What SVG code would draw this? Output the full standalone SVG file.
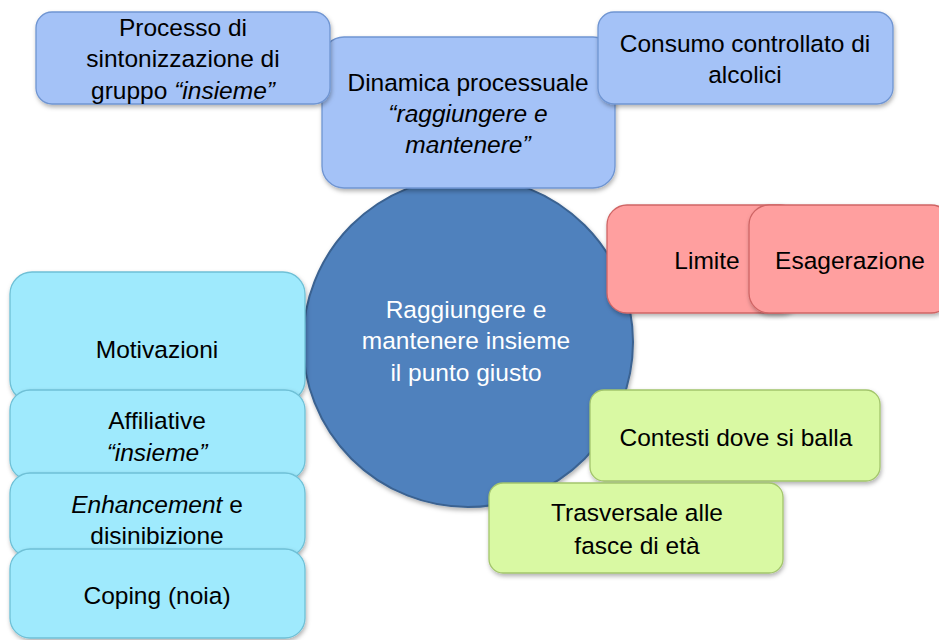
<svg xmlns="http://www.w3.org/2000/svg" width="939" height="640" viewBox="0 0 939 640">
<defs>
<filter id="sh" x="-10%" y="-10%" width="120%" height="130%">
<feDropShadow dx="1" dy="2.5" stdDeviation="2" flood-color="#000" flood-opacity="0.3"/>
</filter>
<style>
.t{font-family:"Liberation Sans",Arial,sans-serif;font-size:24.5px;fill:#000;text-anchor:middle}
.w{fill:#fff}
.i{font-style:italic}
.blue{fill:#A4C2F7;stroke:#6F95D2;stroke-width:1.3}
.cyan{fill:#9FEAFD;stroke:#6FC0D6;stroke-width:1.3}
.red{fill:#FF9F9F;stroke:#CF6565;stroke-width:1.3}
.green{fill:#D9F9A3;stroke:#A3C56C;stroke-width:1.3}
.circ{fill:#4F81BD;stroke:#3A6291;stroke-width:2}
</style>
</defs>
<rect width="939" height="640" fill="#fff"/>
<g id="connectors"/>
<g id="center">
<circle class="circ" cx="468" cy="342" r="165" filter="url(#sh)"/>
<text class="t w"><tspan x="466" y="318">Raggiungere e</tspan><tspan x="466" y="349">mantenere insieme</tspan><tspan x="466" y="381">il punto giusto</tspan></text>
</g>
<g id="dinamica">
<rect class="blue" x="322" y="37" width="293" height="151" rx="22" filter="url(#sh)"/>
<text class="t"><tspan x="468" y="91">Dinamica processuale</tspan><tspan class="i" x="468" y="122">“raggiungere e</tspan><tspan class="i" x="468" y="153">mantenere”</tspan></text>
</g>
<g id="processo">
<rect class="blue" x="36" y="12" width="294" height="92" rx="16" filter="url(#sh)"/>
<text class="t"><tspan x="183" y="36">Processo di</tspan><tspan x="183" y="67">sintonizzazione di</tspan><tspan x="183" y="99">gruppo <tspan class="i">“insieme”</tspan></tspan></text>
</g>
<g id="consumo">
<rect class="blue" x="598" y="12" width="295" height="92" rx="16" filter="url(#sh)"/>
<text class="t"><tspan x="745" y="52">Consumo controllato di</tspan><tspan x="745" y="83">alcolici</tspan></text>
</g>
<g id="limite">
<rect class="red" x="607" y="205" width="193" height="108" rx="20" filter="url(#sh)"/>
<text class="t" x="707" y="269">Limite</text>
</g>
<g id="esagerazione">
<rect class="red" x="749" y="205" width="202" height="108" rx="20" filter="url(#sh)"/>
<text class="t" x="850" y="269">Esagerazione</text>
</g>
<g id="motivazioni">
<rect class="cyan" x="10" y="272" width="295" height="130" rx="22" filter="url(#sh)"/>
<text class="t" x="157" y="358">Motivazioni</text>
</g>
<g id="affiliative">
<rect class="cyan" x="10" y="390" width="295" height="90" rx="20" filter="url(#sh)"/>
<text class="t"><tspan x="157" y="429">Affiliative</tspan><tspan class="i" x="157" y="461">“insieme”</tspan></text>
</g>
<g id="enhancement">
<rect class="cyan" x="10" y="473" width="295" height="84" rx="20" filter="url(#sh)"/>
<text class="t"><tspan x="157" y="513"><tspan class="i">Enhancement</tspan> e</tspan><tspan x="157" y="544">disinibizione</tspan></text>
</g>
<g id="coping">
<rect class="cyan" x="10" y="549" width="295" height="89" rx="20" filter="url(#sh)"/>
<text class="t" x="157" y="604">Coping (noia)</text>
</g>
<g id="contesti">
<rect class="green" x="590" y="390" width="290" height="91" rx="14" filter="url(#sh)"/>
<text class="t" x="736" y="446">Contesti dove si balla</text>
</g>
<g id="trasversale">
<rect class="green" x="489" y="483" width="294" height="90" rx="14" filter="url(#sh)"/>
<text class="t"><tspan x="637" y="521">Trasversale alle</tspan><tspan x="637" y="554">fasce di età</tspan></text>
</g>
</svg>
